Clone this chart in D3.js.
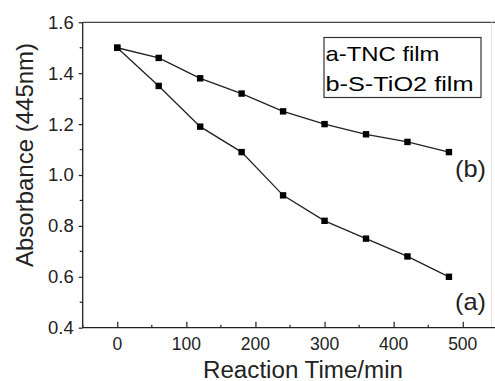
<!DOCTYPE html>
<html>
<head>
<meta charset="utf-8">
<script src="https://cdn.jsdelivr.net/npm/d3@7"></script>
<style>
body { margin: 0; background: #fff; }
svg { display: block; font-family: "Liberation Sans", Arial, sans-serif; }
</style>
</head>
<body>
<div id="chart"></div>
<script>
var times = [0, 60, 120, 180, 240, 300, 360, 420, 480];
var seriesA = [1.50, 1.35, 1.19, 1.09, 0.92, 0.82, 0.75, 0.68, 0.60];
var seriesB = [1.50, 1.46, 1.38, 1.32, 1.25, 1.20, 1.16, 1.13, 1.09];
var xTicks = [0, 100, 200, 300, 400, 500];
var yTicks = [0.4, 0.6, 0.8, 1.0, 1.2, 1.4, 1.6];
var legendLabels = ["a-TNC film", "b-S-TiO2 film"];
var curveLabels = ["(a)", "(b)"];

var width = 495, height = 381;
var plot = { left: 82.7, top: 22.3, right: 497.3, bottom: 327.7 };
var ink = "#222";

var svg = d3.select("#chart").append("svg")
	.attr("width", width)
	.attr("height", height);

var x = d3.scaleLinear().domain([-50, 550]).range([plot.left, plot.right]);
var y = d3.scaleLinear().domain([0.4, 1.6]).range([plot.bottom, plot.top]);

// frame
svg.append("line")
	.attr("x1", plot.left).attr("x2", width)
	.attr("y1", plot.top).attr("y2", plot.top)
	.attr("stroke", "#444").attr("stroke-width", 1.3);
svg.append("line")
	.attr("x1", 491.5).attr("x2", 491.5)
	.attr("y1", plot.top).attr("y2", plot.bottom)
	.attr("stroke", "#e4e4e4").attr("stroke-width", 1);

// x axis, ticks pointing inward
var xAxis = d3.axisTop(x).tickValues(xTicks).tickSize(6).tickFormat("");
var gx = svg.append("g")
	.attr("transform", "translate(0," + plot.bottom + ")")
	.call(xAxis);
gx.select(".domain").remove();
gx.append("line")
	.attr("x1", plot.left).attr("x2", width)
	.attr("stroke", "#222").attr("stroke-width", 1.3);
gx.selectAll(".tick line").attr("stroke", ink).attr("stroke-width", 1.2);
var xMinor = d3.range(-50, 551, 100);
gx.selectAll(".minor").data(xMinor).enter().append("line")
	.attr("x1", d => x(d)).attr("x2", d => x(d))
	.attr("y1", 0).attr("y2", -3)
	.attr("stroke", ink).attr("stroke-width", 1.2);
gx.selectAll(".xlab").data(xTicks).enter().append("text")
	.attr("x", d => x(d))
	.attr("y", 350 - plot.bottom)
	.attr("text-anchor", "middle")
	.attr("font-size", 17.5)
	.attr("fill", ink)
	.text(d => d);

// y axis, ticks pointing outward
var yAxis = d3.axisLeft(y).tickValues(yTicks).tickSize(4).tickPadding(5)
	.tickFormat(d3.format(".1f"));
var gy = svg.append("g")
	.attr("transform", "translate(" + plot.left + ",0)")
	.call(yAxis);
gy.select(".domain").remove();
gy.append("line")
	.attr("y1", plot.top).attr("y2", plot.bottom)
	.attr("stroke", "#222").attr("stroke-width", 1.3);
gy.selectAll(".tick line").attr("stroke", ink).attr("stroke-width", 1.2);
gy.selectAll(".tick text")
	.attr("font-size", 18.5)
	.attr("font-family", "Liberation Sans, Arial, sans-serif")
	.attr("fill", ink);
var yMinor = d3.range(0.5, 1.6, 0.2);
gy.selectAll(".minor").data(yMinor).enter().append("line")
	.attr("x1", -3).attr("x2", 0)
	.attr("y1", d => y(d)).attr("y2", d => y(d))
	.attr("stroke", ink).attr("stroke-width", 1.2);

// axis titles
svg.append("text")
	.attr("x", 203)
	.attr("y", 377.5)
	.attr("font-size", 23)
	.attr("textLength", 200)
	.attr("lengthAdjust", "spacingAndGlyphs")
	.attr("fill", ink)
	.text("Reaction Time/min");
svg.append("text")
	.attr("transform", "translate(33,155) rotate(-90)")
	.attr("text-anchor", "middle")
	.attr("font-size", 24)
	.attr("fill", ink)
	.text("Absorbance (445nm)");

// series
var line = d3.line().x(d => x(d[0])).y(d => y(d[1]));
[seriesA, seriesB].forEach(function (vals) {
	var pts = times.map((t, i) => [t, vals[i]]);
	svg.append("path")
		.attr("d", line(pts))
		.attr("fill", "none")
		.attr("stroke", ink)
		.attr("stroke-width", 1.3);
	svg.selectAll(null).data(pts).enter().append("rect")
		.attr("x", d => x(d[0]) - 3.2)
		.attr("y", d => y(d[1]) - 3.2)
		.attr("width", 6.4).attr("height", 6.4)
		.attr("fill", "#000");
});

// legend
var legendWidths = [114, 148];
svg.append("rect")
	.attr("x", 324).attr("y", 37.5)
	.attr("width", 157).attr("height", 60)
	.attr("fill", "none")
	.attr("stroke", "#333").attr("stroke-width", 1.2);
svg.selectAll(".leg").data(legendLabels).enter().append("text")
	.attr("x", 325.5)
	.attr("y", (d, i) => 61 + i * 30)
	.attr("font-size", 21)
	.attr("textLength", (d, i) => legendWidths[i])
	.attr("lengthAdjust", "spacingAndGlyphs")
	.attr("fill", "#000")
	.text(d => d);

// curve labels
svg.append("text")
	.attr("x", 455).attr("y", 310)
	.attr("font-size", 24).attr("textLength", 31)
	.attr("lengthAdjust", "spacingAndGlyphs").attr("fill", ink)
	.text(curveLabels[0]);
svg.append("text")
	.attr("x", 455).attr("y", 177)
	.attr("font-size", 24).attr("textLength", 31)
	.attr("lengthAdjust", "spacingAndGlyphs").attr("fill", ink)
	.text(curveLabels[1]);
</script>
</body>
</html>
